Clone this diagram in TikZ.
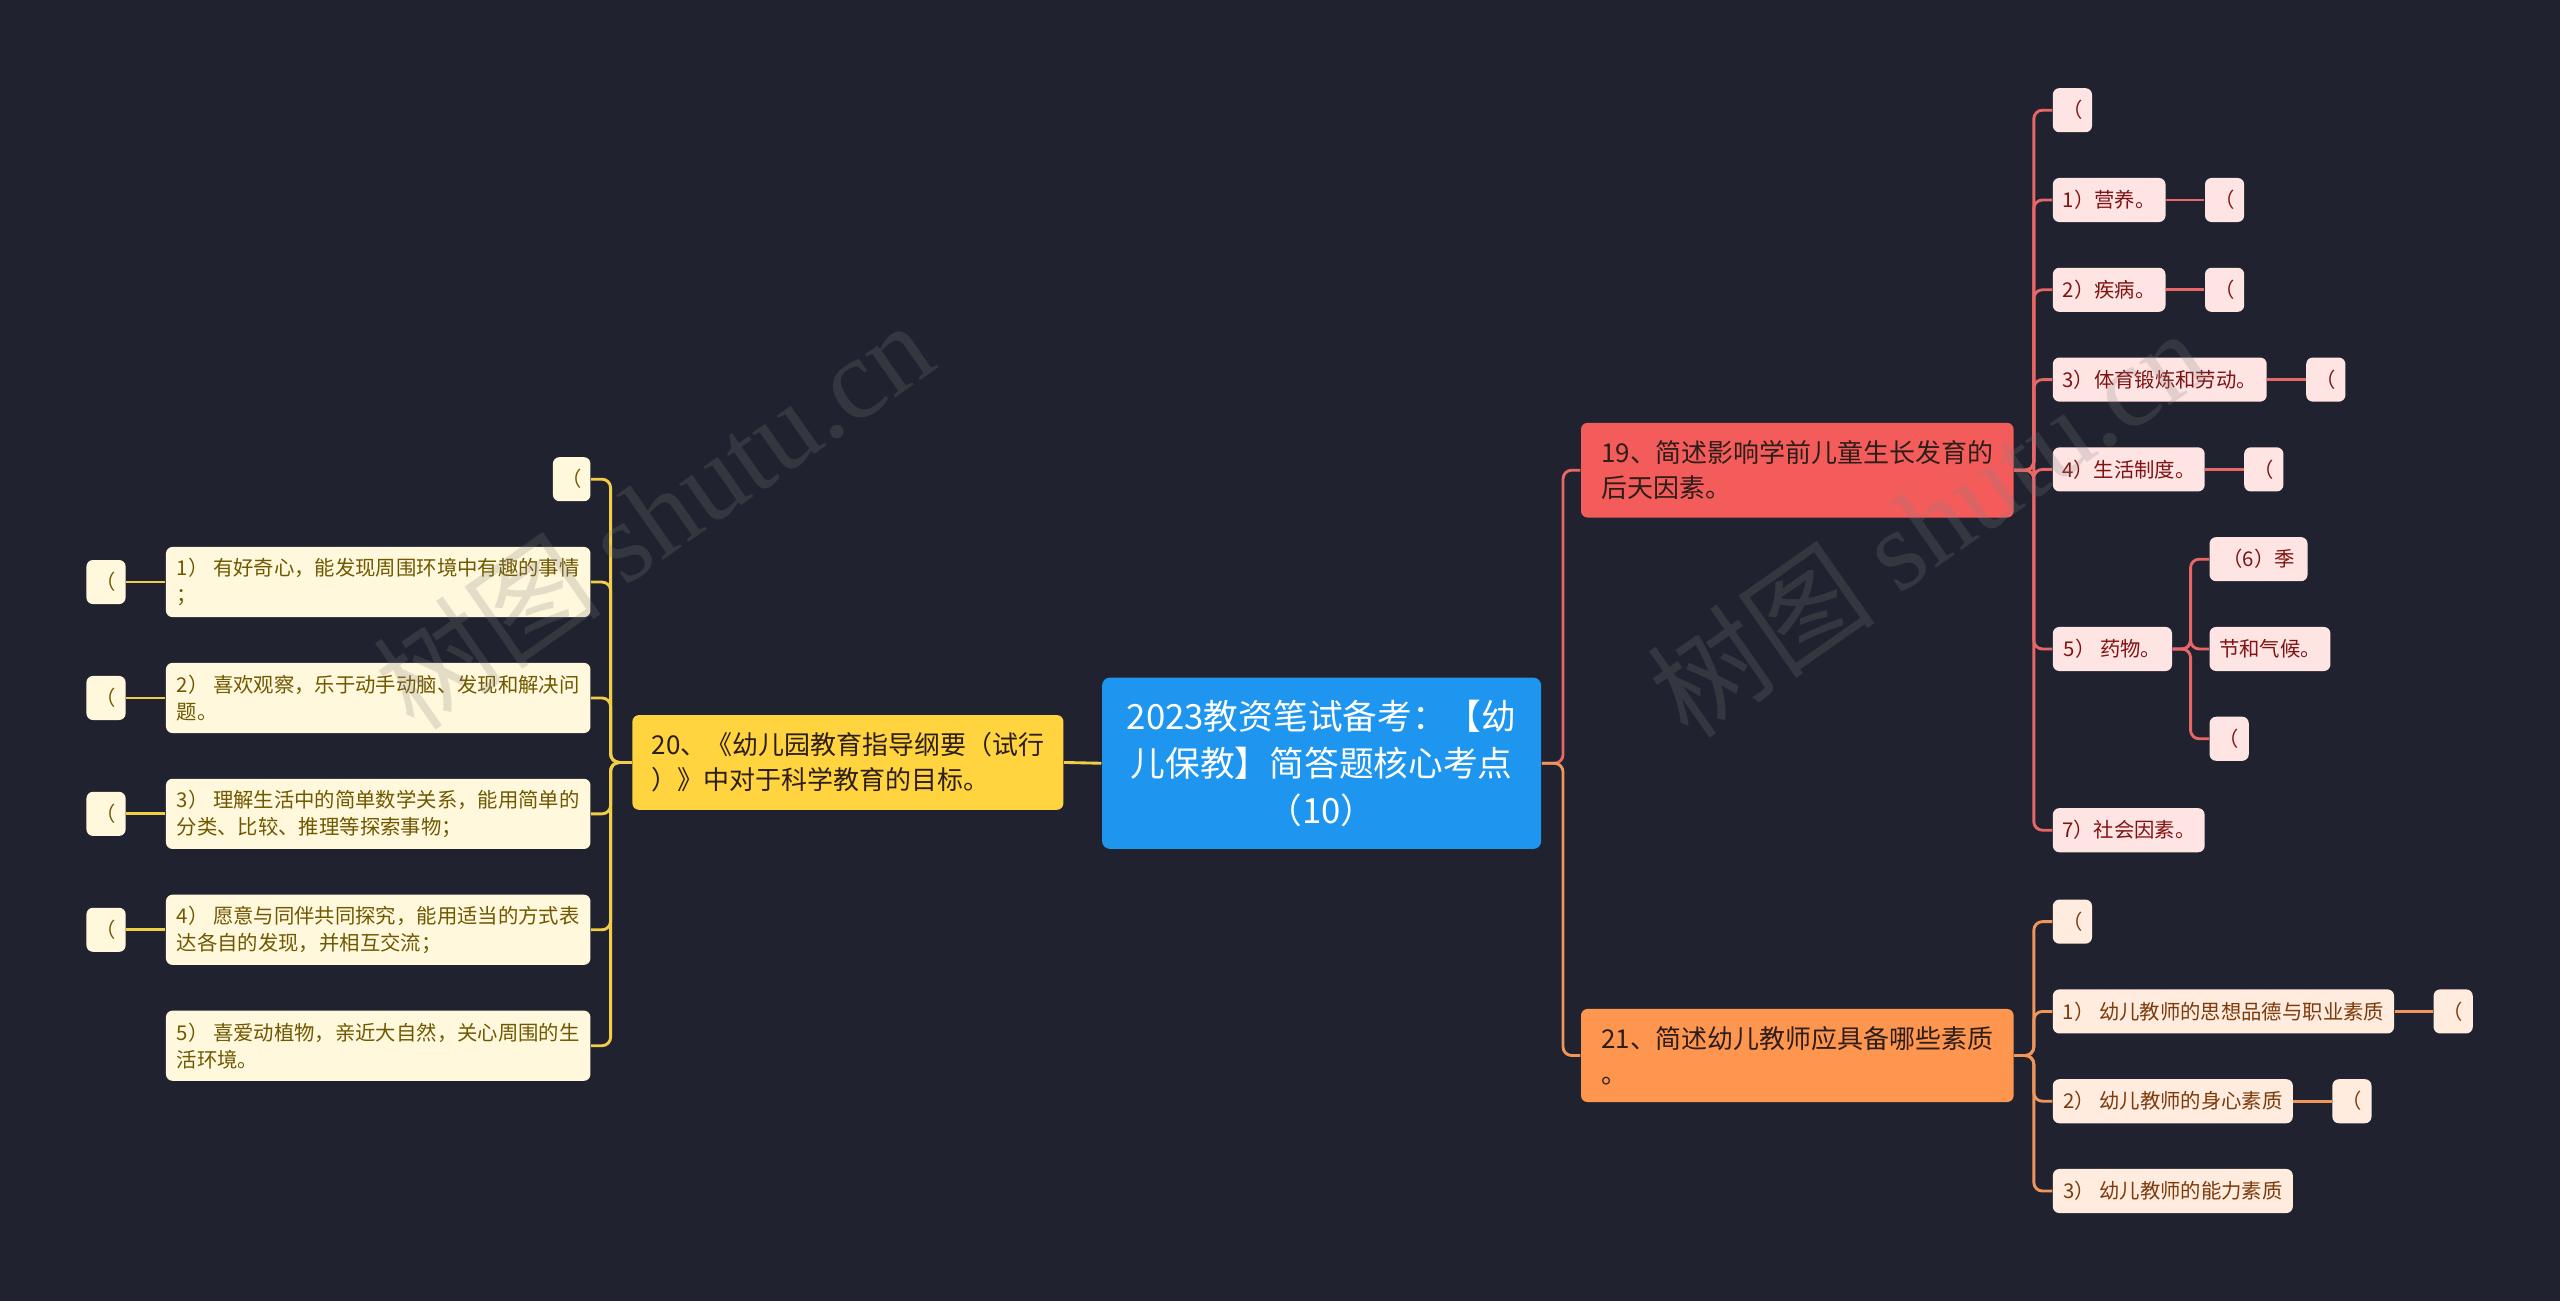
\documentclass[tikz,border=0pt]{standalone}
\usepackage{fontspec}
\setmainfont{Noto Sans CJK SC}
\newfontfamily\markFont{Liberation Serif}
\usepackage{tikz}
\usetikzlibrary{positioning}
\tikzstyle{mapCanvas} = [x = 0.02cm, y = -0.02cm]
\definecolor{bgColor}{RGB}{32,35,47}
\definecolor{rootBlue}{RGB}{30,150,240}
\definecolor{yellowTopic}{RGB}{255,212,63}
\definecolor{yellowLeafFill}{RGB}{255,248,221}
\definecolor{yellowLeafText}{RGB}{112,88,0}
\definecolor{yellowLine}{RGB}{242,205,70}
\definecolor{redTopic}{RGB}{244,92,92}
\definecolor{redLeafFill}{RGB}{255,228,228}
\definecolor{redLeafText}{RGB}{128,18,18}
\definecolor{redLine}{RGB}{232,102,102}
\definecolor{orangeTopic}{RGB}{255,150,80}
\definecolor{orangeLeafFill}{RGB}{255,236,222}
\definecolor{orangeLeafText}{RGB}{125,58,12}
\definecolor{orangeLine}{RGB}{240,150,90}
\definecolor{topicText}{RGB}{45,30,25}
\newcommand{\unitLen}{0.02cm}
\newcommand{\rootFont}{\fontsize{12.1}{16.3}\selectfont}
\newcommand{\topicFont}{\fontsize{9.05}{12.2}\selectfont}
\newcommand{\leafFont}{\fontsize{7.1}{9.4}\selectfont}
\tikzstyle{boxBase} = [rounded corners = .08cm, inner sep = 0pt, align = left]
\tikzstyle{rootStyle} = [boxBase, fill = rootBlue, text = white, font = \rootFont, align = center, rounded corners = .1cm]
\tikzstyle{topicStyle} = [boxBase, text = topicText, font = \topicFont, minimum height = 58*\unitLen]
\tikzstyle{yellowLeaf} = [boxBase, fill = yellowLeafFill, text = yellowLeafText, font = \leafFont, minimum height = 27*\unitLen]
\tikzstyle{redLeaf} = [boxBase, fill = redLeafFill, text = redLeafText, font = \leafFont, minimum height = 27*\unitLen]
\tikzstyle{orangeLeaf} = [boxBase, fill = orangeLeafFill, text = orangeLeafText, font = \leafFont, minimum height = 27*\unitLen]
\tikzstyle{tallLeaf} = [minimum height = 43*\unitLen]
\tikzstyle{stubBox} = [minimum width = 24*\unitLen]
\tikzstyle{branchLine} = [line width = 1pt, rounded corners = 3pt]
\tikzstyle{markStyle} = [text = gray, opacity = 0.22, rotate = 35, font = \fontsize{40}{40}\selectfont]
\newcommand{\leafAt}[7]{\node [#1, anchor = #2, minimum width = #6*\unitLen] (#3) at (#4,#5) {#7};}

\begin{document}
\begin{tikzpicture}[mapCanvas]
\fill [bgColor] (0,0) rectangle (1568,797);
\useasboundingbox (0,0) rectangle (1568,797);

% centre and main topics
\node [rootStyle, minimum width = 269*\unitLen, minimum height = 105*\unitLen] (rootNode) at (809.5,467.5) {2023教资笔试备考：【幼\\儿保教】简答题核心考点\\（10）};
\leafAt{topicStyle, fill = yellowTopic}{west}{yTopic}{387}{467}{264}{20、《幼儿园教育指导纲要（试行\\）》中对于科学教育的目标。}
\leafAt{topicStyle, fill = redTopic}{west}{rTopic}{968}{288}{265}{19、简述影响学前儿童生长发育的\\后天因素。}
\leafAt{topicStyle, fill = orangeTopic, minimum height = 57*\unitLen}{west}{oTopic}{968}{646.5}{265}{21、简述幼儿教师应具备哪些素质\\。}

% left branch
\leafAt{yellowLeaf}{east}{yKidZero}{362}{293.5}{23}{（}
\leafAt{yellowLeaf, tallLeaf}{east}{yKidOne}{362}{356.5}{260}{1） 有好奇心，能发现周围环境中有趣的事情\\；}
\leafAt{yellowLeaf, tallLeaf}{east}{yKidTwo}{362}{427.5}{260}{2） 喜欢观察，乐于动手动脑、发现和解决问\\题。}
\leafAt{yellowLeaf, tallLeaf}{east}{yKidThree}{362}{498.5}{260}{3） 理解生活中的简单数学关系，能用简单的\\分类、比较、推理等探索事物；}
\leafAt{yellowLeaf, tallLeaf}{east}{yKidFour}{362}{569.5}{260}{4） 愿意与同伴共同探究，能用适当的方式表\\达各自的发现，并相互交流；}
\leafAt{yellowLeaf, tallLeaf}{east}{yKidFive}{362}{640.5}{260}{5） 喜爱动植物，亲近大自然，关心周围的生\\活环境。}
\foreach \kid in {One,Two,Three,Four} {
  \node [yellowLeaf, stubBox, left = 0.48cm of yKid\kid] (yStub\kid) {（};
  \draw [branchLine, yellowLine] (yKid\kid.west) -- (yStub\kid.east);
}
\foreach \kid in {Zero,One,Two,Three,Four,Five}
  \draw [branchLine, yellowLine] (yTopic.west) -- ++(-13,0) |- (yKid\kid.east);
\draw [branchLine, yellowLine] (rootNode.west) -- (yTopic.east);

% upper right branch
\leafAt{redLeaf, stubBox}{west}{rKidZero}{1257}{67.5}{24}{（}
\leafAt{redLeaf}{west}{rKidOne}{1257}{122.5}{69}{1）营养。}
\leafAt{redLeaf}{west}{rKidTwo}{1257}{177.5}{69}{2）疾病。}
\leafAt{redLeaf}{west}{rKidThree}{1257}{232.5}{131}{3）体育锻炼和劳动。}
\leafAt{redLeaf}{west}{rKidFour}{1257}{287.5}{93}{4）生活制度。}
\leafAt{redLeaf}{west}{rKidFive}{1257}{397.5}{73}{5） 药物。}
\leafAt{redLeaf}{west}{rKidSeven}{1257}{508.5}{93}{7）社会因素。}
\foreach \kid in {One,Two,Three,Four} {
  \node [redLeaf, stubBox, right = 0.47cm of rKid\kid] (rStub\kid) {（};
  \draw [branchLine, redLine] (rKid\kid.east) -- (rStub\kid.west);
}
\leafAt{redLeaf}{west}{rSubA}{1353}{342.5}{60}{（6）季}
\leafAt{redLeaf}{west}{rSubB}{1353}{397.5}{74}{节和气候。}
\leafAt{redLeaf, stubBox}{west}{rSubC}{1353}{452.5}{24}{（}
\foreach \sub in {A,B,C}
  \draw [branchLine, redLine] (rKidFive.east) -- ++(11,0) |- (rSub\sub.west);
\foreach \kid in {Zero,One,Two,Three,Four,Five,Seven}
  \draw [branchLine, redLine] (rTopic.east) -- ++(12,0) |- (rKid\kid.west);
\draw [branchLine, redLine] (rootNode.east) -- ++(13,0) |- (rTopic.west);

% lower right branch
\leafAt{orangeLeaf, stubBox}{west}{oKidZero}{1257}{564.5}{24}{（}
\leafAt{orangeLeaf}{west}{oKidOne}{1257}{619.5}{209}{1） 幼儿教师的思想品德与职业素质}
\leafAt{orangeLeaf}{west}{oKidTwo}{1257}{674.5}{147}{2） 幼儿教师的身心素质}
\leafAt{orangeLeaf}{west}{oKidThree}{1257}{729.5}{147}{3） 幼儿教师的能力素质}
\foreach \kid in {One,Two} {
  \node [orangeLeaf, stubBox, right = 0.47cm of oKid\kid] (oStub\kid) {（};
  \draw [branchLine, orangeLine] (oKid\kid.east) -- (oStub\kid.west);
}
\foreach \kid in {Zero,One,Two,Three}
  \draw [branchLine, orangeLine] (oTopic.east) -- ++(12,0) |- (oKid\kid.west);
\draw [branchLine, orangeLine] (rootNode.east) -- ++(13,0) |- (oTopic.west);

% watermarks
\node [markStyle] (markLeft) at (400,315) {树图 {\markFont shutu.cn}};
\node [markStyle] (markRight) at (1180,320) {树图 {\markFont shutu.cn}};
\end{tikzpicture}
\end{document}
